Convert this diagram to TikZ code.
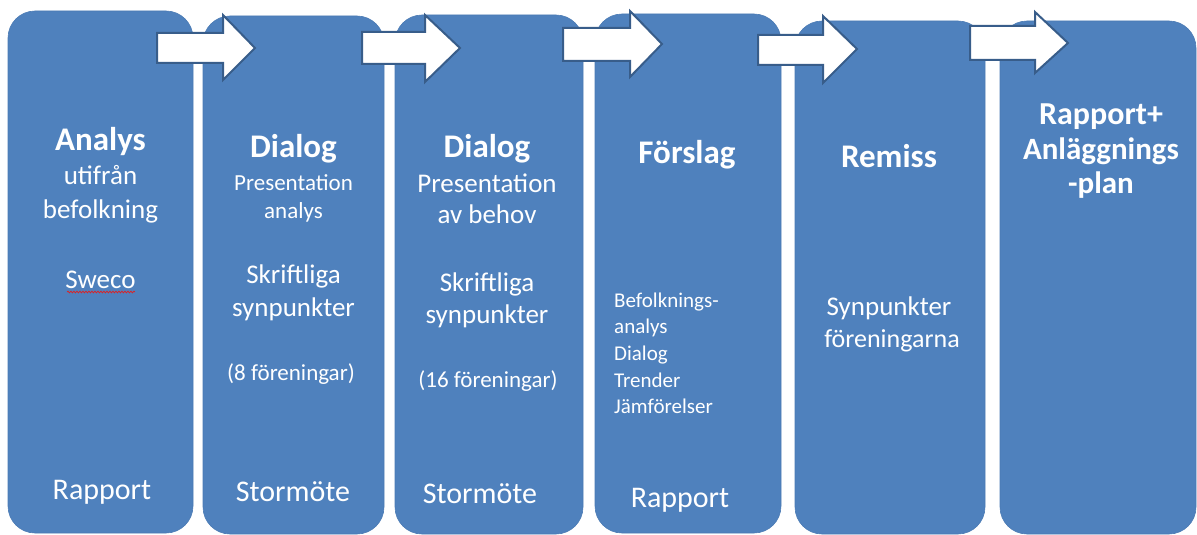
\documentclass[tikz,border=0pt]{standalone}
\usepackage{fontspec}
\setmainfont{Carlito}
\usetikzlibrary{decorations.pathmorphing}
\definecolor{boxblue}{HTML}{4F81BD}
\definecolor{arrowedge}{HTML}{385D8A}
\definecolor{spellred}{HTML}{E02020}
\tikzset{
  stage/.style={fill=boxblue, draw=boxblue!95!black, line width=0.6pt, rounded corners=27pt},
  blockarr/.style={fill=white, draw=arrowedge, line width=2pt, line join=miter},
  txt/.style={text=white, anchor=base, inner sep=0pt, font=\fontsize{27}{30}\selectfont},
  ttl/.style={txt, font=\fontsize{33}{36}\selectfont\bfseries},
  sml/.style={txt, font=\fontsize{23}{26}\selectfont},
  big/.style={txt, font=\fontsize{30}{33}\selectfont},
  lst/.style={txt, anchor=base west, font=\fontsize{21}{24}\selectfont},
}
\begin{document}
\begin{tikzpicture}[x=1pt,y=-1pt]
\useasboundingbox (0,0) rectangle (1197,535);
% stage boxes
\path[stage] (8,11) rectangle (193,533);
\path[stage] (203,16) rectangle (384,534);
\path[stage] (395,15) rectangle (583,534);
\path[stage] (595,14) rectangle (781,533);
\path[stage] (795,21) rectangle (985,534);
\path[stage] (1000,21) rectangle (1196,534);
\coordinate (b1) at (100.5,11);
\coordinate (b2) at (293.5,16);
\coordinate (b3) at (489,15);
\coordinate (b4) at (688,14);
\coordinate (b5) at (890,21);
\coordinate (b6) at (1100,21);
% block arrows
\draw[blockarr] (157,33) -- (223,33) -- (223,15) -- (255,48) -- (223,80) -- (223,63) -- (157,63) -- cycle;
\draw[blockarr] (362,32) -- (425,32) -- (425,15) -- (460,48) -- (425,82) -- (425,64) -- (362,64) -- cycle;
\draw[blockarr] (563,28) -- (630,28) -- (630,11) -- (662,44) -- (630,77) -- (630,61) -- (563,61) -- cycle;
\draw[blockarr] (758,35) -- (823,35) -- (823,16) -- (857,49) -- (823,83) -- (823,65) -- (758,65) -- cycle;
\draw[blockarr] (970,26) -- (1035,26) -- (1035,12) -- (1068,43) -- (1035,73) -- (1035,60) -- (970,60) -- cycle;
% box 1
\node[ttl] (t1a) at (100.5,150) {Analys};
\node[txt] (t1b) at (100.5,184) {utifrån};
\node[txt] (t1c) at (100.5,218) {befolkning};
\node[txt] (t1d) at (100.5,288) {Sweco};
\draw[spellred, line width=0.7pt, decorate, decoration={snake, amplitude=0.9pt, segment length=3pt}] (67,292) -- (135,292);
\node[big] (t1e) at (102,499) {Rapport};
% box 2
\node[ttl] (t2a) at (293.5,157) {Dialog};
\node[sml] (t2b) at (293.5,190) {Presentation};
\node[sml] (t2c) at (293.5,218) {analys};
\node[txt] (t2d) at (293.5,283) {Skriftliga};
\node[txt] (t2e) at (293.5,316) {synpunkter};
\node[sml] (t2f) at (291,380) {(8 föreningar)};
\node[big] (t2g) at (293,501) {Stormöte};
% box 3
\node[ttl] (t3a) at (487,157) {Dialog};
\node[txt] (t3b) at (487,192) {Presentation};
\node[txt] (t3c) at (487,223) {av behov};
\node[txt] (t3d) at (487,291) {Skriftliga};
\node[txt] (t3e) at (487,323) {synpunkter};
\node[sml] (t3f) at (488,387) {(16 föreningar)};
\node[big] (t3g) at (480,503) {Stormöte};
% box 4
\node[ttl] (t4a) at (687,163) {Förslag};
\node[lst] (t4b) at (614,307) {Befolknings-};
\node[lst] (t4c) at (614,333) {analys};
\node[lst] (t4d) at (614,360) {Dialog};
\node[lst] (t4e) at (614,387) {Trender};
\node[lst] (t4f) at (614,413) {Jämförelser};
\node[big] (t4g) at (680,507) {Rapport};
% box 5
\node[ttl] (t5a) at (889,167) {Remiss};
\node[txt] (t5b) at (889,315) {Synpunkter};
\node[txt, font=\fontsize{26}{29}\selectfont] (t5c) at (892,347) {föreningarna};
% box 6
\node[ttl, font=\fontsize{32}{35}\selectfont\bfseries] (t6a) at (1101,124) {Rapport+};
\node[ttl, font=\fontsize{31}{34}\selectfont\bfseries] (t6b) at (1101,159) {Anläggnings};
\node[ttl, font=\fontsize{31}{34}\selectfont\bfseries] (t6c) at (1101,193) {-plan};
\end{tikzpicture}
\end{document}
